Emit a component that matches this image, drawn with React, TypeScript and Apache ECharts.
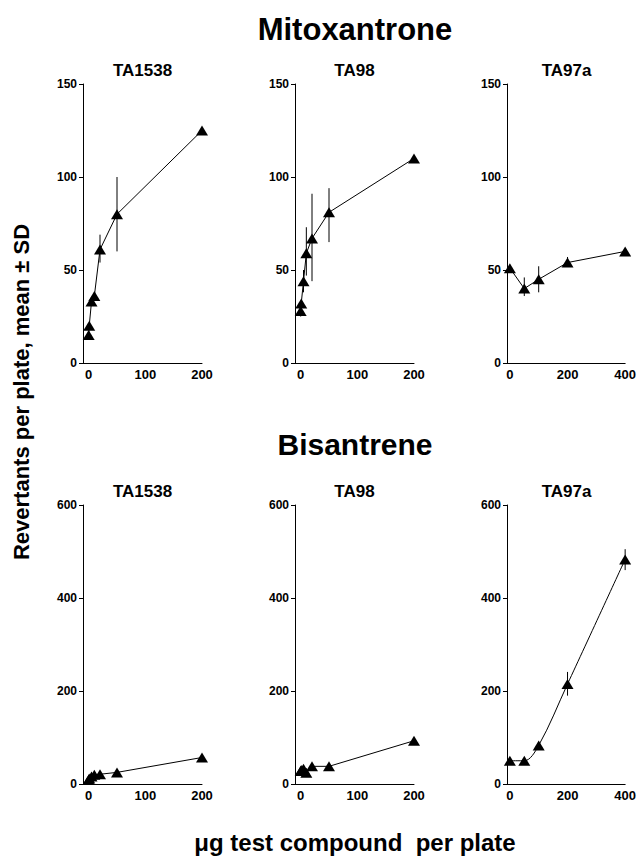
import React, { useEffect, useRef } from "react";
import * as echarts from "echarts";

// ---- Data ----
const panelTitles = ["TA1538", "TA98", "TA97a", "TA1538", "TA98", "TA97a"];
const groupTitles = ["Mitoxantrone", "Bisantrene"];
const yAxisTitle = "Revertants per plate, mean \u00b1 SD";
const xAxisTitle = "\u03bcg test compound  per plate";

// Mitoxantrone
const mitoTA1538Dose = [0, 1, 5, 10, 20, 50, 200];
const mitoTA1538Mean = [15, 20, 33, 36, 61, 80, 125];
const mitoTA1538Err = [[20, 54, 69], [50, 60, 100]]; // [dose, low, high]

const mitoTA98Dose = [0, 1, 5, 10, 20, 50, 200];
const mitoTA98Mean = [28, 32, 44, 59, 67, 81, 110];
const mitoTA98Err = [[0, 25, 31], [5, 38, 50], [10, 47, 73], [20, 44, 91], [50, 65, 94]];

const mitoTA97aDose = [0, 50, 100, 200, 400];
const mitoTA97aMean = [51, 40, 45, 54, 60];
const mitoTA97aErr = [[50, 36, 46], [100, 38, 52], [200, 52, 57]];

// Bisantrene
const bisTA1538Dose = [0, 1, 5, 10, 20, 50, 200];
const bisTA1538Mean = [9, 12, 16, 20, 21, 25, 57];
const bisTA1538Err: number[][] = [];

const bisTA98Dose = [0, 1, 5, 10, 20, 50, 200];
const bisTA98Mean = [28, 30, 33, 24, 38, 38, 93];
const bisTA98Err: number[][] = [];

const bisTA97aDose = [0, 50, 100, 200, 400];
const bisTA97aMean = [50, 50, 83, 215, 483];
const bisTA97aErr = [[200, 190, 241], [400, 460, 505]];

const xTicks200 = [0, 100, 200];
const xTicks400 = [0, 200, 400];

const panels = [
  { dose: mitoTA1538Dose, mean: mitoTA1538Mean, err: mitoTA1538Err, xMax: 200, xTicks: xTicks200, yMax: 150, yStep: 50, smooth: false },
  { dose: mitoTA98Dose, mean: mitoTA98Mean, err: mitoTA98Err, xMax: 200, xTicks: xTicks200, yMax: 150, yStep: 50, smooth: false },
  { dose: mitoTA97aDose, mean: mitoTA97aMean, err: mitoTA97aErr, xMax: 400, xTicks: xTicks400, yMax: 150, yStep: 50, smooth: false },
  { dose: bisTA1538Dose, mean: bisTA1538Mean, err: bisTA1538Err, xMax: 200, xTicks: xTicks200, yMax: 600, yStep: 200, smooth: false },
  { dose: bisTA98Dose, mean: bisTA98Mean, err: bisTA98Err, xMax: 200, xTicks: xTicks200, yMax: 600, yStep: 200, smooth: false },
  { dose: bisTA97aDose, mean: bisTA97aMean, err: bisTA97aErr, xMax: 400, xTicks: xTicks400, yMax: 600, yStep: 200, smooth: true },
];

// ---- Layout ----
const colLefts = [83, 295, 507];
const gridWidth = 119;
const rowTops = [84, 505];
const gridHeight = 279;
const FONT = "Liberation Sans, Arial, Helvetica, sans-serif";

export default function App() {
  const ref = useRef<HTMLDivElement>(null);

  useEffect(() => {
    document.body.style.margin = "0";
    if (!ref.current) return;
    const chart = echarts.init(ref.current, null, { renderer: "svg" });

    const grids: any[] = [];
    const xAxes: any[] = [];
    const yAxes: any[] = [];
    const series: any[] = [];
    const graphics: any[] = [];

    panels.forEach((p, i) => {
      const col = i % 3;
      const row = Math.floor(i / 3);
      grids.push({ left: colLefts[col], top: rowTops[row], width: gridWidth, height: gridHeight, containLabel: false });
      xAxes.push({
        type: "value",
        gridIndex: i,
        min: -10,
        max: p.xMax,
        splitLine: { show: false },
        axisLine: { show: true, onZero: false, lineStyle: { color: "#000", width: 1 } },
        axisTick: { show: false },
        axisLabel: {
          customValues: p.xTicks,
          color: "#000",
          fontWeight: "bold",
          fontSize: 13,
          fontFamily: FONT,
          margin: 5,
        },
      });
      yAxes.push({
        type: "value",
        gridIndex: i,
        min: 0,
        max: p.yMax,
        interval: p.yStep,
        splitLine: { show: false },
        axisLine: { show: true, onZero: false, lineStyle: { color: "#000", width: 1 } },
        axisTick: { show: true, length: 4, lineStyle: { color: "#000", width: 1 } },
        axisLabel: {
          color: "#000",
          fontWeight: "bold",
          fontSize: 12,
          fontFamily: FONT,
          margin: 6,
        },
      });
      series.push({
        type: "custom",
        xAxisIndex: i,
        yAxisIndex: i,
        data: p.err,
        encode: { x: 0, y: [1, 2] },
        z: 1,
        renderItem: (params: any, api: any) => {
          const a = api.coord([api.value(0), api.value(1)]);
          const b = api.coord([api.value(0), api.value(2)]);
          return {
            type: "line",
            shape: { x1: a[0], y1: a[1], x2: b[0], y2: b[1] },
            style: { stroke: "#000", lineWidth: 1 },
          };
        },
      });
      series.push({
        type: "line",
        xAxisIndex: i,
        yAxisIndex: i,
        data: p.dose.map((d, k) => [d, p.mean[k]]),
        smooth: p.smooth ? 0.35 : false,
        symbol: "triangle",
        symbolSize: [12, 10],
        itemStyle: { color: "#000" },
        lineStyle: { color: "#000", width: 1 },
        z: 3,
      });
      graphics.push({
        type: "text",
        x: colLefts[col] + gridWidth / 2,
        y: row === 0 ? 70 : 491,
        style: {
          text: panelTitles[i],
          font: `bold 17px ${FONT}`,
          fill: "#000",
          textAlign: "center",
          textVerticalAlign: "middle",
        },
      });
    });

    graphics.push({
      type: "text",
      x: 355,
      y: 29,
      style: { text: groupTitles[0], font: `bold 31px ${FONT}`, fill: "#000", textAlign: "center", textVerticalAlign: "middle" },
    });
    graphics.push({
      type: "text",
      x: 355,
      y: 444,
      style: { text: groupTitles[1], font: `bold 30px ${FONT}`, fill: "#000", textAlign: "center", textVerticalAlign: "middle" },
    });
    graphics.push({
      type: "text",
      x: 21,
      y: 392,
      rotation: Math.PI / 2,
      style: { text: yAxisTitle, font: `bold 22px ${FONT}`, fill: "#000", textAlign: "center", textVerticalAlign: "middle" },
    });
    graphics.push({
      type: "text",
      x: 355,
      y: 842,
      style: { text: xAxisTitle, font: `bold 24px ${FONT}`, fill: "#000", textAlign: "center", textVerticalAlign: "middle" },
    });

    chart.setOption({
      animation: false,
      backgroundColor: "#fff",
      grid: grids,
      xAxis: xAxes,
      yAxis: yAxes,
      series,
      graphic: graphics,
    });

    return () => chart.dispose();
  }, []);

  return <div ref={ref} style={{ width: 639, height: 857 }} />;
}
